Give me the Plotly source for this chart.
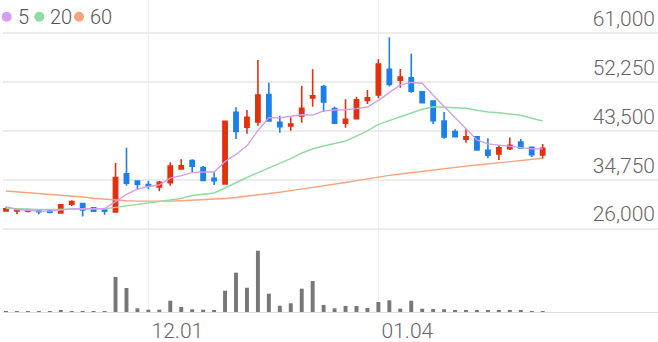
import plotly.graph_objects as go

# ---------------- data ----------------
dates = [
    "2020-11-12", "2020-11-13", "2020-11-16", "2020-11-17", "2020-11-18", "2020-11-19", "2020-11-20",
    "2020-11-23", "2020-11-24", "2020-11-25", "2020-11-26", "2020-11-27", "2020-11-30",
    "2020-12-01", "2020-12-02", "2020-12-03", "2020-12-04", "2020-12-07", "2020-12-08", "2020-12-09",
    "2020-12-10", "2020-12-11", "2020-12-14", "2020-12-15", "2020-12-16", "2020-12-17", "2020-12-18",
    "2020-12-21", "2020-12-22", "2020-12-23", "2020-12-24", "2020-12-28", "2020-12-29", "2020-12-30",
    "2021-01-04", "2021-01-05", "2021-01-06", "2021-01-07", "2021-01-08", "2021-01-11", "2021-01-12",
    "2021-01-13", "2021-01-14", "2021-01-15", "2021-01-18", "2021-01-19", "2021-01-20", "2021-01-21",
    "2021-01-22", "2021-01-25",
]

open_ = [29200, 29200, 29150, 29300, 29300, 28800, 30400, 30500, 29750, 29350,
         29000, 35850, 34550, 33900, 33500, 34250, 36700, 38200, 36950, 35050,
         34000, 46850, 44200, 45100, 50050, 45050, 44400, 46200, 49400, 51450,
         47500, 44900, 45700, 48950, 49950, 54550, 52600, 53050, 50500, 48850,
         45300, 43400, 42050, 42450, 40050, 39400, 40350, 41500, 40600, 39200]
high = [29850, 29650, 29600, 29550, 29450, 30400, 31100, 30600, 29900, 29400,
        37750, 40500, 34700, 34600, 34550, 37900, 38450, 38450, 37250, 36200,
        45250, 47750, 47250, 56200, 52150, 46250, 45950, 51600, 54550, 51750,
        47850, 49200, 49650, 50850, 56350, 60300, 54600, 57350, 50650, 48900,
        46900, 43800, 43800, 42500, 42200, 40950, 42350, 42050, 40600, 41150]
low = [29200, 28600, 28950, 28600, 28750, 28700, 30050, 28200, 29050, 28500,
       28850, 33700, 33050, 33050, 32700, 33700, 36700, 36050, 34600, 33850,
       33950, 42050, 43000, 44450, 45150, 43200, 43550, 45000, 47850, 46900,
       44800, 44100, 45600, 48350, 49350, 51450, 51250, 50350, 48450, 44750,
       42100, 42450, 41400, 40050, 38600, 38300, 40100, 40400, 38850, 38550]
close = [29550, 29400, 29400, 29050, 28950, 30300, 30850, 29350, 29150, 29150,
         35150, 34150, 33950, 33600, 34300, 37200, 37250, 37200, 34650, 34600,
         45250, 43400, 45950, 49950, 45300, 44250, 44750, 47550, 49800, 48700,
         44900, 45600, 49100, 49450, 55500, 51850, 53150, 50650, 48550, 45350,
         42450, 42500, 42450, 40100, 39150, 40500, 40950, 40450, 39250, 40400]

ma5 = [29950, 29450, 29300, 29150, 29150, 29350, 29550, 29600, 29600, 29600,
       30850, 32150, 33100, 33550, 33850, 35050, 35500, 36050, 36150, 36150,
       38050, 39300, 40850, 43600, 45900, 45850, 46150, 46400, 46350, 47100,
       47250, 47300, 47500, 47800, 49000, 50350, 51750, 52200, 52050, 49900,
       47900, 45950, 44000, 41900, 41200, 41000, 40700, 40500, 40300, 40300]
ma20 = [29650, 29550, 29500, 29450, 29450, 29470, 29490, 29530, 29570, 29580,
        29830, 30100, 30370, 30640, 30870, 31140, 31410, 31950, 32220, 32400,
        33290, 34280, 35170, 36030, 36870, 37770, 38570, 39560, 40280, 40810,
        41230, 41710, 42600, 43540, 44700, 45350, 45950, 46670, 47390, 47850,
        47800, 47750, 47570, 47210, 46900, 46780, 46550, 46310, 45780, 45290]
ma60 = [32750, 32610, 32470, 32320, 32180, 32040, 31860, 31680, 31460, 31270,
        31100, 31000, 30940, 30910, 30910, 30940, 31000, 31070, 31140, 31280,
        31410, 31590, 31800, 32040, 32290, 32540, 32810, 33080, 33360, 33650,
        33950, 34280, 34620, 34960, 35310, 35550, 35800, 36050, 36300, 36550,
        36770, 36980, 37200, 37410, 37630, 37820, 38020, 38220, 38410, 38610]

volume = [20000, 16000, 16000, 16000, 16000, 26000, 20000, 20000, 16000, 16000,
          700000, 480000, 74000, 46000, 46000, 226000, 100000, 54000, 46000, 26000,
          426000, 786000, 486000, 1226000, 366000, 126000, 174000, 466000, 620000, 140000,
          74000, 120000, 120000, 80000, 200000, 234000, 66000, 226000, 66000, 60000,
          54000, 26000, 26000, 26000, 26000, 26000, 26000, 26000, 20000, 20000]

price_ticks = [26000, 34750, 43500, 52250, 61000]
date_ticks = ["2020-12-01", "2021-01-04"]
date_tick_labels = ["12.01", "01.04"]

ma_names = ["5", "20", "60"]
ma_colors = ["#d69cf0", "#8fdca0", "#f7a47c"]

# ---------------- figure ----------------
UP = "#e3300f"
DOWN = "#1b7fec"
FONT = "Roboto"

fig = go.Figure()

fig.add_trace(go.Candlestick(
    x=dates, open=open_, high=high, low=low, close=close,
    increasing=dict(line=dict(color=UP, width=1.6), fillcolor=UP),
    decreasing=dict(line=dict(color=DOWN, width=1.6), fillcolor=DOWN),
    whiskerwidth=0, showlegend=False, xaxis="x", yaxis="y",
))

for vals, col in zip([ma60, ma20, ma5], [ma_colors[2], ma_colors[1], ma_colors[0]]):
    fig.add_trace(go.Scatter(
        x=dates, y=vals, mode="lines", line=dict(color=col, width=1.4),
        showlegend=False, xaxis="x", yaxis="y", hoverinfo="skip",
    ))

fig.add_trace(go.Bar(
    x=dates, y=volume, marker=dict(color="#777777", line=dict(width=0)),
    width=0.36, showlegend=False, xaxis="x2", yaxis="y2",
))

# legend: circle shapes + text labels (pixel offsets from top-left of plot)
legend_circle_offsets = [-1.3, 31.3, 71.0]
legend_text_offsets = [12.5, 45.3, 84.6]
for name, col, cx, tx in zip(ma_names, ma_colors, legend_circle_offsets, legend_text_offsets):
    fig.add_shape(
        type="circle", xref="paper", yref="paper", xsizemode="pixel", ysizemode="pixel",
        xanchor=0, yanchor=1, x0=cx, x1=cx + 10, y0=-21.7, y1=-11.7,
        fillcolor=col, line=dict(width=0), layer="above",
    )
    fig.add_annotation(
        text=name, xref="paper", yref="paper", x=0, y=1,
        xanchor="left", yanchor="middle", xshift=tx, yshift=-16.7, showarrow=False,
        font=dict(family=FONT, size=20, color="#555555", weight=300),
    )

x_range = [-0.274, 59.53]
price_range = [23976, 66965]
vol_split = 72.0 / 312.0

fig.update_layout(
    width=658, height=342,
    margin=dict(l=3, r=0, t=0, b=30),
    paper_bgcolor="white", plot_bgcolor="white",
    boxgap=0.45,
    font=dict(family=FONT, size=21, color="#666666", weight=300),
    xaxis=dict(
        type="category", range=x_range, domain=[0, 1], anchor="y",
        tickvals=date_ticks, ticktext=date_tick_labels,
        showticklabels=False, showgrid=True, gridcolor="#eeeeee", gridwidth=1,
        zeroline=False, showline=False, ticks="",
        rangeslider=dict(visible=False),
    ),
    yaxis=dict(
        domain=[vol_split, 1], range=price_range, anchor="x",
        side="right", tickvals=price_ticks, tickformat=",",
        ticklabelposition="inside top", showgrid=True,
        gridcolor="#ececec", gridwidth=1.5, zeroline=False, showline=False,
        ticks="", tickfont=dict(family=FONT, size=21, color="#666666", weight=300),
    ),
    xaxis2=dict(
        type="category", range=x_range, domain=[0, 1], anchor="y2",
        matches="x",
        tickvals=date_ticks, ticktext=date_tick_labels,
        showgrid=True, gridcolor="#eeeeee", gridwidth=1,
        zeroline=False, showline=True, linecolor="#dddddd", linewidth=1,
        ticks="", ticklabelshift=29,
        tickfont=dict(family=FONT, size=21, color="#666666", weight=300),
        rangeslider=dict(visible=False),
    ),
    yaxis2=dict(
        domain=[0, vol_split], range=[0, 1440000], anchor="x2",
        showgrid=False, showticklabels=False, zeroline=False, showline=False,
        ticks="",
    ),
    showlegend=False,
)

fig.write_html("out.html")
